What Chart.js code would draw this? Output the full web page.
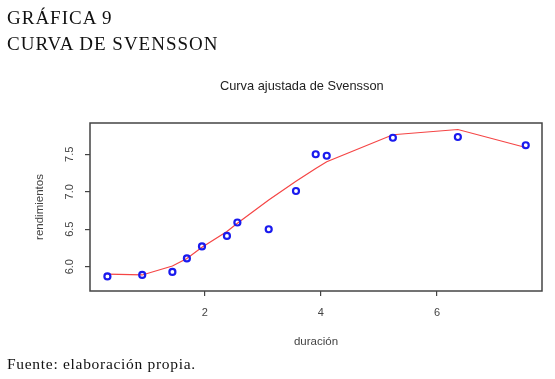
<!DOCTYPE html>
<html><head><meta charset="utf-8">
<script src="https://cdn.jsdelivr.net/npm/chart.js@4"></script>
<style>
html,body{margin:0;padding:0;background:#fff;}
#wrap{position:relative;width:555px;height:379px;overflow:hidden;}
.h{position:absolute;left:7px;font-family:"Liberation Serif","DejaVu Serif",serif;color:#111;white-space:nowrap;}
#t{position:absolute;font-family:"Liberation Sans",Arial,sans-serif;font-size:12.8px;color:#222;white-space:nowrap;}
canvas{position:absolute;left:0;top:0;}
</style></head>
<body><div id="wrap">
<canvas id="c" width="555" height="379"></canvas>
<div class="h" style="top:7px;font-size:19px;letter-spacing:1px;">GRÁFICA 9</div>
<div class="h" style="top:33px;font-size:19px;letter-spacing:1px;">CURVA DE SVENSSON</div>
<div id="t" style="left:220px;top:78px;">Curva ajustada de Svensson</div>
<div class="h" style="top:355px;font-size:15.5px;letter-spacing:0.7px;">Fuente: elaboración propia.</div>
</div>
<script>
const duracion = [0.32, 0.92, 1.44, 1.69, 1.95, 2.38, 2.56, 3.10, 3.57, 3.91, 4.10, 5.24, 6.36, 7.53];
const rendimientos = [5.87, 5.89, 5.93, 6.11, 6.27, 6.41, 6.59, 6.50, 7.01, 7.50, 7.48, 7.72, 7.73, 7.62];
const ajustados = [5.90, 5.89, 6.01, 6.11, 6.26, 6.47, 6.58, 6.89, 7.14, 7.31, 7.40, 7.76, 7.83, 7.59];
const xTicks = [2, 4, 6];
const yTicks = [6.0, 6.5, 7.0, 7.5];

const obs = duracion.map((x, i) => ({x: x, y: rendimientos[i]}));
const fit = duracion.map((x, i) => ({x: x, y: ajustados[i]}));

const boxPlugin = {
  id: 'box',
  afterDraw(chart) {
    const {ctx, chartArea: a} = chart;
    ctx.save();
    ctx.strokeStyle = '#444';
    ctx.lineWidth = 1.5;
    ctx.strokeRect(a.left, a.top, a.right - a.left, a.bottom - a.top);
    const ys = chart.scales.y;
    ctx.fillStyle = '#444';
    ctx.font = '11px "Liberation Sans", Arial, sans-serif';
    ctx.textAlign = 'center';
    ctx.textBaseline = 'middle';
    ys.ticks.forEach(t => {
      const py = ys.getPixelForValue(t.value);
      ctx.save();
      ctx.translate(69.5, py);
      ctx.rotate(-Math.PI / 2);
      ctx.fillText(t.value.toFixed(1), 0, 0);
      ctx.restore();
    });
    ctx.restore();
  }
};

new Chart(document.getElementById('c'), {
  type: 'scatter',
  data: {
    datasets: [
      {data: fit, showLine: true, borderColor: '#f54545', borderWidth: 1.2, pointRadius: 0, tension: 0, order: 2},
      {data: obs, showLine: false, pointRadius: 3, pointBorderWidth: 2.2, pointBorderColor: '#1a1aee', pointBackgroundColor: 'rgba(0,0,0,0)', order: 1}
    ]
  },
  options: {
    responsive: false,
    animation: false,
    layout: {padding: {top: 123, right: 13, bottom: 28, left: 0}},
    plugins: {legend: {display: false}, tooltip: {enabled: false}, title: {display: false}},
    scales: {
      x: {
        type: 'linear', min: 0.02, max: 7.81,
        afterFit(s) { s.height = 60; },
        afterBuildTicks(s) { s.ticks = xTicks.map(v => ({value: v})); },
        grid: {drawOnChartArea: false, drawTicks: true, tickLength: 5, color: '#444', lineWidth: 1.2},
        border: {display: false},
        ticks: {color: '#444', font: {size: 11, family: '"Liberation Sans", Arial, sans-serif'}, padding: 10, maxRotation: 0},
        title: {display: true, text: 'duración', color: '#444', font: {size: 11.5, family: '"Liberation Sans", Arial, sans-serif'}, padding: {top: 0, bottom: 2}}
      },
      y: {
        type: 'linear', min: 5.676, max: 7.917,
        afterFit(s) { s.width = 90; },
        afterBuildTicks(s) { s.ticks = yTicks.map(v => ({value: v})); },
        grid: {drawOnChartArea: false, drawTicks: true, tickLength: 5, color: '#444', lineWidth: 1.2},
        border: {display: false},
        ticks: {color: 'rgba(0,0,0,0)', font: {size: 11}, padding: 3},
        title: {display: true, text: 'rendimientos', color: '#444', font: {size: 11.5, family: '"Liberation Sans", Arial, sans-serif'}, padding: {top: 33, bottom: 0}}
      }
    }
  },
  plugins: [boxPlugin]
});
</script>
</body></html>
